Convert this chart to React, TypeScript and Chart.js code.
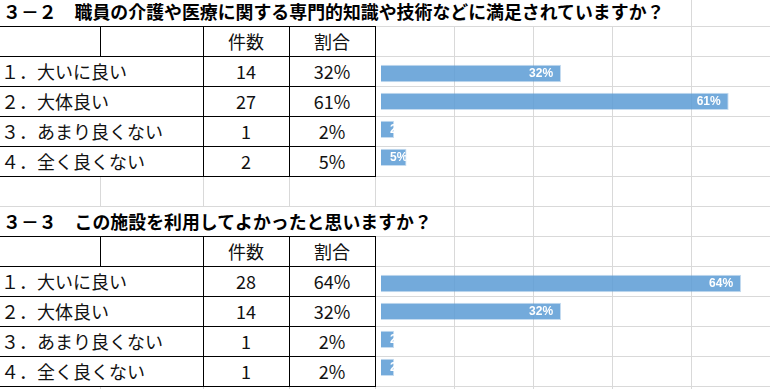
import React, { useEffect, useRef } from "react";
import { Chart, registerables } from "chart.js";

Chart.register(...registerables);

// ---------- data ----------
const title1 = "３－２　職員の介護や医療に関する専門的知識や技術などに満足されていますか？";
const title2 = "３－３　この施設を利用してよかったと思いますか？";
const headers = ["件数", "割合"];
const categories = ["１．大いに良い", "２．大体良い", "３．あまり良くない", "４．全く良くない"];
const counts1 = [14, 27, 1, 2];
const pct1 = [31.8, 61.4, 2.3, 4.5];
const counts2 = [28, 14, 1, 1];
const pct2 = [63.6, 31.8, 2.3, 2.3];

const fmtPct = (v: number) => Math.round(v) + "%";

// ---------- layout / style ----------
const FONT = '"Noto Sans CJK JP", "Noto Sans", sans-serif';
const GRID = "#d9d9d9";
const COL_X = [100, 203, 289, 375, 454, 533, 612, 691];
const ROW_Y = [26, 56, 86, 116, 146, 176, 206, 236, 266, 296, 326, 356, 386];
const X_MAX = 68.7;

const barLabels = {
  id: "barLabels",
  afterDatasetsDraw(chart: any) {
    const ctx = chart.ctx;
    const meta = chart.getDatasetMeta(0);
    const data = chart.data.datasets[0].data as number[];
    ctx.save();
    ctx.font = 'bold 12px "Liberation Sans", Arial, sans-serif';
    ctx.fillStyle = "#ffffff";
    ctx.textBaseline = "middle";
    ctx.textAlign = "left";
    meta.data.forEach((bar: any, i: number) => {
      const { x, y, base, height } = bar.getProps(["x", "y", "base", "height"], true);
      const text = fmtPct(data[i]);
      const w = ctx.measureText(text).width;
      const tx = Math.max(base + 9, x - 8 - w);
      ctx.save();
      ctx.beginPath();
      ctx.rect(base, y - height / 2, x - base, height);
      ctx.clip();
      ctx.fillText(text, tx, y + 0.5);
      ctx.restore();
    });
    ctx.restore();
  },
};

function BarChart({ values, top }: { values: number[]; top: number }) {
  const ref = useRef<HTMLCanvasElement | null>(null);
  useEffect(() => {
    if (!ref.current) return;
    const chart = new Chart(ref.current, {
      type: "bar",
      data: {
        labels: categories,
        datasets: [
          {
            data: values,
            backgroundColor: "rgba(91,155,213,0.85)",
            borderColor: "rgba(91,155,213,0.35)",
            borderWidth: 1,
            barPercentage: 0.62,
            categoryPercentage: 1,
          },
        ],
      },
      options: {
        indexAxis: "y",
        animation: false,
        responsive: false,
        maintainAspectRatio: false,
        layout: { padding: { left: 6, right: 0, top: 3.5, bottom: 4.7 } },
        plugins: {
          legend: { display: false },
          tooltip: { enabled: false },
          title: { display: false },
        },
        scales: {
          x: { display: false, min: 0, max: X_MAX },
          y: { display: false },
        },
      },
      plugins: [barLabels],
    } as any);
    return () => chart.destroy();
  }, [values]);
  return (
    <canvas
      ref={ref}
      width={395}
      height={120}
      style={{ position: "absolute", left: 375, top, width: 395, height: 120 }}
    />
  );
}

function Table({ oy, counts, pcts }: { oy: number; counts: number[]; pcts: number[] }) {
  const els: React.ReactNode[] = [];
  els.push(
    <div key="bg" style={{ position: "absolute", left: 0, top: 26 + oy, width: 376, height: 151, background: "#fff" }} />
  );
  const cellText = (key: string, text: string, left: number, width: number, rowTop: number, align: "left" | "center") => (
    <div
      key={key}
      style={{
        position: "absolute",
        left,
        top: rowTop + 1,
        width,
        height: 29,
        lineHeight: "29px",
        textAlign: align,
        fontSize: 18,
        color: "#111",
        whiteSpace: "nowrap",
        paddingLeft: align === "left" ? 1 : 0,
        boxSizing: "border-box",
      }}
    >
      {text}
    </div>
  );
  els.push(cellText("h1", headers[0], 203, 86, 26 + oy, "center"));
  els.push(cellText("h2", headers[1], 289, 86, 26 + oy, "center"));
  categories.forEach((c, i) => {
    const rt = 56 + oy + 30 * i;
    els.push(cellText("c" + i, c, 0, 203, rt, "left"));
    els.push(cellText("n" + i, String(counts[i]), 203, 86, rt, "center"));
    els.push(cellText("p" + i, fmtPct(pcts[i]), 289, 86, rt, "center"));
  });
  [26, 56, 86, 116, 146, 176].forEach((y) =>
    els.push(
      <div key={"hl" + y} style={{ position: "absolute", left: 0, top: y + oy, width: 376, height: 1, background: "#000" }} />
    )
  );
  [203, 289, 375].forEach((x) =>
    els.push(
      <div key={"vl" + x} style={{ position: "absolute", left: x, top: 26 + oy, width: 1, height: 151, background: "#000" }} />
    )
  );
  els.push(
    <div key="vl100" style={{ position: "absolute", left: 100, top: 26 + oy, width: 1, height: 31, background: "#000" }} />
  );
  return <>{els}</>;
}

function Title({ text, top, height }: { text: string; top: number; height: number }) {
  return (
    <div
      style={{
        position: "absolute",
        left: 0,
        top,
        height,
        lineHeight: height + "px",
        background: "#fff",
        fontWeight: 700,
        fontSize: 17.9,
        color: "#000",
        whiteSpace: "nowrap",
        paddingLeft: 3,
        paddingRight: 2,
      }}
    >
      {text}
    </div>
  );
}

export default function App() {
  return (
    <div
      style={{
        position: "fixed",
        left: 0,
        top: 0,
        width: 770,
        height: 389,
        overflow: "hidden",
        background: "#fff",
        fontFamily: FONT,
      }}
    >
      {ROW_Y.map((y) => (
        <div key={"gy" + y} style={{ position: "absolute", left: 0, top: y, width: 770, height: 1, background: GRID }} />
      ))}
      {COL_X.map((x) => (
        <div key={"gx" + x} style={{ position: "absolute", left: x, top: 0, width: 1, height: 389, background: GRID }} />
      ))}
      <Title text={title1} top={-4} height={30} />
      <Title text={title2} top={207} height={29} />
      <Table oy={0} counts={counts1} pcts={pct1} />
      <Table oy={210} counts={counts2} pcts={pct2} />
      <BarChart values={pct1} top={56} />
      <BarChart values={pct2} top={266} />
    </div>
  );
}
